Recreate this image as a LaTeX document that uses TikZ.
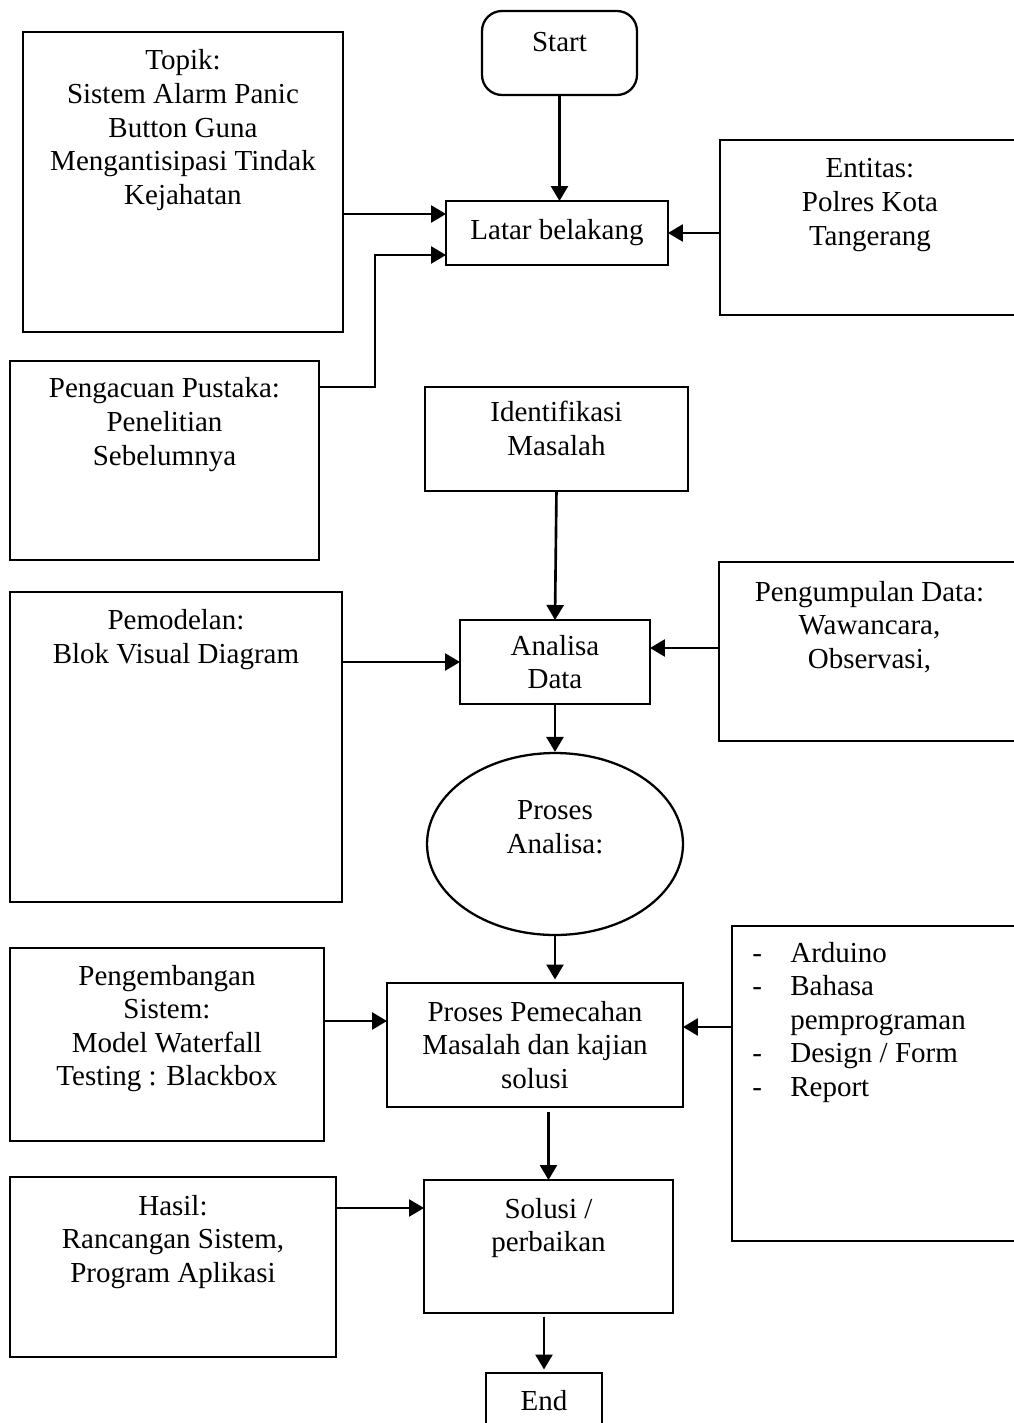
\documentclass[tikz,border=0pt]{standalone}
\usepackage{fontspec}
\setmainfont{Liberation Serif}
\usetikzlibrary{shapes.geometric,arrows.meta,positioning}
\newcommand{\lines}[1]{\begin{tabular}[t]{@{}c@{}}#1\end{tabular}}

\begin{document}
\begin{tikzpicture}[x=0.02cm,y=-0.02cm,
    every node/.append style={font=\fontsize{16.5}{19.07}\selectfont},
    box/.style={draw,line width=1.3pt,inner sep=0,outer sep=0,align=center,anchor=north west},
    txt/.style={anchor=base,inner sep=0},
    arr/.style={-{Triangle[length=0.3cm,width=0.34cm]},line width=1.5pt}]
    \useasboundingbox (0,0) rectangle (1014,1423);
    % kotak
    \node[box,rounded corners=0.4cm,minimum width=3.1cm,minimum height=1.68cm] (start) at (482,11) {};
    \node[box,minimum width=6.4cm,minimum height=6cm] (topik) at (23,32) {};
    \node[box,minimum width=4.44cm,minimum height=1.28cm] (latar) at (446,201) {Latar belakang};
    \node[box,minimum width=6cm,minimum height=3.5cm] (entitas) at (720,140) {};
    \node[box,minimum width=6.18cm,minimum height=3.98cm] (pustaka) at (10,361) {};
    \node[box,minimum width=5.26cm,minimum height=2.08cm] (identifikasi) at (425,387) {};
    \node[box,minimum width=6.64cm,minimum height=6.2cm] (pemodelan) at (10,592) {};
    \node[box,minimum width=3.8cm,minimum height=1.68cm] (analisa) at (460,620) {Analisa\\Data};
    \node[box,minimum width=6.02cm,minimum height=3.58cm] (pengumpulan) at (719,562) {};
    \node[draw,ellipse,line width=1.3pt,inner sep=0,minimum width=5.12cm,minimum height=3.64cm] (proses) at (555,844) {};
    \node[box,minimum width=6.28cm,minimum height=3.86cm] (pengembangan) at (10,948) {};
    \node[box,minimum width=5.92cm,minimum height=2.48cm] (pemecahan) at (387,983) {Proses Pemecahan\\Masalah dan kajian\\solusi};
    \node[box,minimum width=5.76cm,minimum height=6.3cm] (alat) at (732,926) {};
    \node[box,minimum width=6.52cm,minimum height=3.6cm] (hasil) at (10,1177) {};
    \node[box,minimum width=4.98cm,minimum height=2.66cm] (solusi) at (424,1180) {};
    \node[box,minimum width=2.32cm,minimum height=1.34cm] (end) at (486,1373) {};

    % teks
    \node[txt] (start-t) at ([yshift=-0.82cm]start.north) {Start};
    \node[txt] (topik-t) at ([yshift=-0.76cm]topik.north) {\lines{Topik:\\Sistem Alarm Panic\\Button Guna\\Mengantisipasi Tindak\\Kejahatan}};
    \node[txt] (entitas-t) at ([yshift=-0.76cm]entitas.north) {\lines{Entitas:\\Polres Kota\\Tangerang}};
    \node[txt] (pustaka-t) at ([yshift=-0.74cm]pustaka.north) {\lines{Pengacuan Pustaka:\\Penelitian\\Sebelumnya}};
    \node[txt] (identifikasi-t) at ([yshift=-0.7cm]identifikasi.north) {\lines{Identifikasi\\Masalah}};
    \node[txt] (pemodelan-t) at ([yshift=-0.76cm]pemodelan.north) {\lines{Pemodelan:\\Blok Visual Diagram}};
    \node[txt] (pengumpulan-t) at ([yshift=-0.78cm]pengumpulan.north) {\lines{Pengumpulan Data:\\Wawancara,\\Observasi,}};
    \node[txt] (proses-t) at ([yshift=-1.36cm]proses.north) {\lines{Proses\\Analisa:}};
    \node[txt] (pengembangan-t) at ([yshift=-0.74cm]pengembangan.north) {\lines{Pengembangan\\Sistem:\\Model Waterfall\\Testing : Blackbox}};
    \node[txt] (hasil-t) at ([yshift=-0.76cm]hasil.north) {\lines{Hasil:\\Rancangan Sistem,\\Program Aplikasi}};
    \node[txt] (solusi-t) at ([yshift=-0.76cm]solusi.north) {\lines{Solusi /\\perbaikan}};
    \node[txt] (end-t) at ([yshift=-0.74cm]end.north) {End};
    \node[anchor=base west,inner sep=0] (alat-t) at (752,962)
      {\begin{tabular}[t]{@{}p{0.76cm}@{}l@{}}-&Arduino\\-&Bahasa\\&pemprograman\\-&Design / Form\\-&Report\end{tabular}};

    % panah
    \coordinate (latar-in1) at ([yshift=0.38cm]latar.west);
    \coordinate (latar-in2) at ([yshift=-0.44cm]latar.west);
    \coordinate (analisa-in) at ([yshift=0.28cm]analisa.east);
    \coordinate (pemecahan-in1) at ([yshift=0.48cm]pemecahan.west);
    \coordinate (pemecahan-in2) at ([yshift=0.36cm]pemecahan.east);
    \coordinate (solusi-in) at ([yshift=0.77cm]solusi.west);
    \draw[arr] (start.south) -- (start.south |- latar.north);
    \draw[arr] (topik.east |- latar-in1) -- (latar-in1);
    \draw[arr] ([yshift=-0.52cm]pustaka.north east) -- ++(56,0) |- (latar-in2);
    \draw[arr] (entitas.west |- latar.east) -- (latar.east);
    \draw[arr] (identifikasi.south) -- (analisa.north);
    \draw[arr] (pemodelan.east |- analisa.west) -- (analisa.west);
    \draw[arr] (pengumpulan.west |- analisa-in) -- (analisa-in);
    \draw[arr] (analisa.south) -- (analisa.south |- proses.north);
    \draw[arr,shorten >=2pt] (proses.south) -- (proses.south |- pemecahan.north);
    \draw[arr] (pengembangan.east |- pemecahan-in1) -- (pemecahan-in1);
    \draw[arr] (alat.west |- pemecahan-in2) -- (pemecahan-in2);
    \draw[arr,shorten <=3pt] (solusi.north |- pemecahan.south) -- (solusi.north);
    \draw[arr] (hasil.east |- solusi-in) -- (solusi-in);
    \draw[arr,shorten <=2pt,shorten >=2pt] (end.north |- solusi.south) -- (end.north);
\end{tikzpicture}
\end{document}
